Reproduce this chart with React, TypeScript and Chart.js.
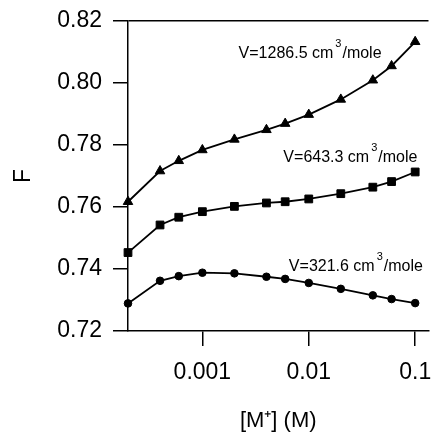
import React, { useEffect, useRef } from "react";
import { Chart, registerables } from "chart.js";

Chart.register(...registerables);

const CONCENTRATIONS = [0.0002, 0.0004, 0.0006, 0.001, 0.002, 0.004, 0.006, 0.01, 0.02, 0.04, 0.06, 0.1];
const F_1286 = [0.7617, 0.7716, 0.7749, 0.7784, 0.7818, 0.7849, 0.7869, 0.7898, 0.7947, 0.8009, 0.8055, 0.8133];
const F_643 = [0.7453, 0.7542, 0.7567, 0.7585, 0.7602, 0.7613, 0.7617, 0.7626, 0.7643, 0.7664, 0.7682, 0.7713];
const F_321 = [0.7289, 0.7362, 0.7377, 0.7388, 0.7386, 0.7375, 0.7368, 0.7355, 0.7336, 0.7315, 0.7303, 0.729];

const X_TICKS = [0.001, 0.01, 0.1];
const X_TICK_LABELS = ["0.001", "0.01", "0.1"];
const Y_TICKS = [0.72, 0.74, 0.76, 0.78, 0.8, 0.82];
const Y_TICK_LABELS = ["0.72", "0.74", "0.76", "0.78", "0.80", "0.82"];

const LABEL_TEXTS = ["V=1286.5 cm", "V=643.3 cm", "V=321.6 cm"];
const LABEL_X = [0.00219, 0.00577, 0.0065];
const LABEL_Y = [0.808, 0.7745, 0.7395];

const FONT = "'Liberation Sans', Arial, Helvetica, sans-serif";

const labelPlugin = {
  id: "seriesLabels",
  afterDatasetsDraw(chart: any) {
    const ctx = chart.ctx;
    const xs = chart.scales.x;
    const ys = chart.scales.y;
    ctx.save();
    ctx.fillStyle = "#000";
    ctx.textBaseline = "alphabetic";
    ctx.textAlign = "left";
    LABEL_TEXTS.forEach((t, i) => {
      const px = xs.getPixelForValue(LABEL_X[i]);
      const py = ys.getPixelForValue(LABEL_Y[i]);
      ctx.font = `16px ${FONT}`;
      ctx.fillText(t, px, py);
      const w = ctx.measureText(t).width;
      ctx.font = `11px ${FONT}`;
      ctx.fillText("3", px + w + 2, py - 11);
      const w3 = ctx.measureText("3").width;
      ctx.font = `16px ${FONT}`;
      ctx.fillText("/mole", px + w + 2 + w3 + 1, py);
    });
    ctx.restore();
  },
};

function makeDataset(data: number[], style: string, radius: number) {
  return {
    data: CONCENTRATIONS.map((x, i) => ({ x, y: data[i] })),
    borderColor: "#000",
    backgroundColor: "#000",
    borderWidth: 1.8,
    pointStyle: style,
    pointRadius: radius,
    pointBorderWidth: 1,
    pointBackgroundColor: "#000",
    pointBorderColor: "#000",
    tension: 0,
    clip: false as any,
  };
}

export default function App() {
  const ref = useRef<HTMLCanvasElement | null>(null);
  useEffect(() => {
    if (!ref.current) return;
    const chart = new Chart(ref.current, {
      type: "line",
      data: {
        datasets: [
          makeDataset(F_1286, "triangle", 5.5),
          makeDataset(F_643, "rect", 5.5),
          makeDataset(F_321, "circle", 3.8),
        ] as any,
      },
      plugins: [labelPlugin],
      options: {
        animation: false,
        responsive: false,
        maintainAspectRatio: false,
        layout: { padding: { top: 21, right: 0, left: 0, bottom: 0 } },
        plugins: { legend: { display: false }, tooltip: { enabled: false } },
        scales: {
          x: {
            type: "logarithmic",
            min: 0.0002,
            max: 0.1334,
            afterBuildTicks: (s: any) => {
              s.ticks = X_TICKS.map((v) => ({ value: v }));
            },
            afterFit: (s: any) => {
              s.height = 103;
              s.paddingLeft = 0;
              s.paddingRight = 0;
            },
            ticks: {
              autoSkip: false,
              maxRotation: 0,
              padding: 13,
              color: "#000",
              font: { family: FONT, size: 23 },
              callback: (v: any) => {
                const i = X_TICKS.findIndex((t) => Math.abs(t - Number(v)) / t < 1e-6);
                return i >= 0 ? X_TICK_LABELS[i] : "";
              },
            },
            grid: {
              drawOnChartArea: false,
              color: "#000",
              tickColor: "#000",
              tickLength: 15,
              lineWidth: 1.5,
            },
            border: { display: true, color: "#000", width: 1.5 },
            title: {
              display: true,
              text: "[M\u207A] (M)",
              color: "#000",
              font: { family: FONT, size: 22 },
              padding: { top: 0, bottom: 0 },
            },
          },
          y: {
            type: "linear",
            min: 0.72,
            max: 0.82,
            afterBuildTicks: (s: any) => {
              s.ticks = Y_TICKS.map((v) => ({ value: v }));
            },
            afterFit: (s: any) => {
              s.width = 128;
              s.paddingTop = 0;
              s.paddingBottom = 0;
            },
            ticks: {
              padding: 11,
              color: "#000",
              font: { family: FONT, size: 23 },
              callback: (v: any) => {
                const i = Y_TICKS.findIndex((t) => Math.abs(t - Number(v)) < 1e-6);
                return i >= 0 ? Y_TICK_LABELS[i] : "";
              },
            },
            grid: {
              drawOnChartArea: true,
              color: (c: any) => (c.tick && Math.abs(c.tick.value - 0.82) < 1e-6 ? "#000" : "rgba(0,0,0,0)"),
              tickColor: "#000",
              tickLength: 15,
              lineWidth: 1.5,
            },
            border: { display: true, color: "#000", width: 1.5 },
            title: {
              display: true,
              text: "F",
              color: "#000",
              font: { family: FONT, size: 23 },
              padding: { top: 10, bottom: 0 },
            },
          },
        },
      } as any,
    });
    return () => chart.destroy();
  }, []);
  return (
    <div style={{ position: "fixed", left: 0, top: 0, width: 435, height: 434, background: "#fff" }}>
      <canvas ref={ref} width={435} height={434} />
    </div>
  );
}
